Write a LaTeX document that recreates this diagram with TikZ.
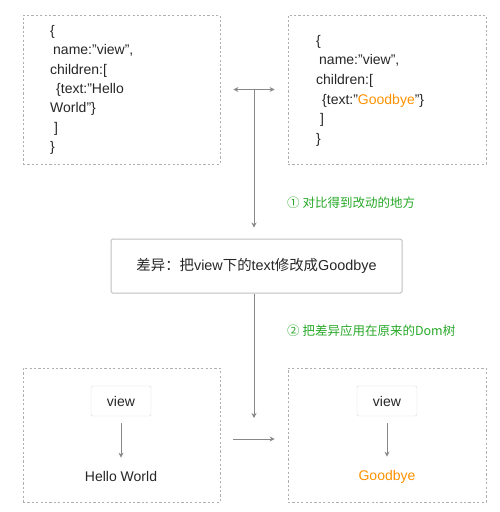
\documentclass[tikz,border=0pt]{standalone}
\usepackage{fontspec}
\setmainfont{Liberation Sans}
\newfontfamily\cjk{Noto Sans CJK SC}
\usetikzlibrary{arrows.meta,calc}
\definecolor{linegray}{RGB}{136,136,136}
\definecolor{dashgray}{RGB}{175,175,175}
\definecolor{boxgray}{RGB}{190,190,190}
\definecolor{stepgreen}{RGB}{40,168,40}
\definecolor{neworange}{RGB}{255,145,0}
\begin{document}
\begin{tikzpicture}[x=1pt,y=-1pt,
    every node/.style = {font=\fontsize{14}{19.4}\selectfont, text=black!85},
    frame/.style = {draw=dashgray, line width=0.8pt,
        dash pattern=on 2.2pt off 2.2pt, minimum width=197pt},
    diffbox/.style = {draw=boxgray, line width=1pt, rounded corners=1.5pt,
        minimum width=291pt, minimum height=54pt},
    viewbox/.style = {draw=black!15, rounded corners=1.5pt,
        minimum width=60pt, minimum height=30pt},
    steplabel/.style = {anchor=west, inner sep=0pt, text=stepgreen,
        font=\cjk\fontsize{12.5}{15}\selectfont},
    link/.style = {draw=linegray, line width=0.9pt,
        -{Stealth[length=5pt,width=5pt]}}]

\useasboundingbox (0,0) rectangle (499,512);

% Old tree as data
\node[frame, minimum height=149pt] (jsonOld) at (121.5,89.5) {};
\node[anchor=north west, inner sep=0pt, align=left] (jsonOldText) at (50,25)
    {\{\\
     \hspace{3pt}name:”view”,\\
     children:[\\
     \hspace{6pt}\{text:”Hello\\
     World”\}\\
     \hspace{4pt}]\\
     \}};

% New tree as data
\node[frame, minimum width=198pt, minimum height=149pt] (jsonNew) at (387,89.5) {};
\node[anchor=north west, inner sep=0pt, align=left,
    font=\fontsize{14}{19.6}\selectfont] (jsonNewText) at (316,35)
    {\{\\
     \hspace{3pt}name:”view”,\\
     children:[\\
     \hspace{6pt}\{text:”\textcolor{neworange}{Goodbye}”\}\\
     \hspace{4pt}]\\
     \}};

% Difference
\node[diffbox, font=\fontsize{14.4}{17}\selectfont] (diff) at (256.5,266)
    {{\cjk 差异：把}view{\cjk 下的}text{\cjk 修改成}Goodbye};

% Old tree as Dom
\node[frame, minimum height=134pt] (domOld) at (121.5,435) {};
\node[viewbox] (viewOld) at (121,401) {view};
\node[anchor=base, inner sep=0pt] (hello) at (121,481) {Hello World};

% New tree as Dom
\node[frame, minimum width=198pt, minimum height=134pt] (domNew) at (387,435) {};
\node[viewbox] (viewNew) at (387,401) {view};
\node[anchor=base, inner sep=0pt, text=neworange] (goodbye) at (387,480) {Goodbye};

% Connectors
\coordinate (split) at ($(jsonOld.east)!0.5!(jsonNew.west)$);
\coordinate (merge) at ($(domOld.east)!0.5!(domNew.west)$);
\draw[link, {Stealth[length=5pt,width=5pt]}-{Stealth[length=5pt,width=5pt]},
    shorten <=13pt, shorten >=13pt] (jsonOld.east) -- (jsonNew.west);
\draw[link, shorten >=11pt] (split) -- (split |- diff.north);
\draw[link, shorten >=17pt] (split |- diff.south) -- (merge);
\draw[link, shorten <=13pt, shorten >=13pt]
    ([yshift=-4pt]domOld.east) -- ([yshift=-4pt]domNew.west);
\draw[link, shorten <=7pt, shorten >=13pt] (viewOld) -- (hello);
\draw[link, shorten <=7pt, shorten >=13pt] (viewNew) -- (goodbye);

% Steps
\node[steplabel] (stepOne) at (287,203) {① 对比得到改动的地方};
\node[steplabel] (stepTwo) at (287,331) {② 把差异应用在原来的Dom树};
\end{tikzpicture}
\end{document}
